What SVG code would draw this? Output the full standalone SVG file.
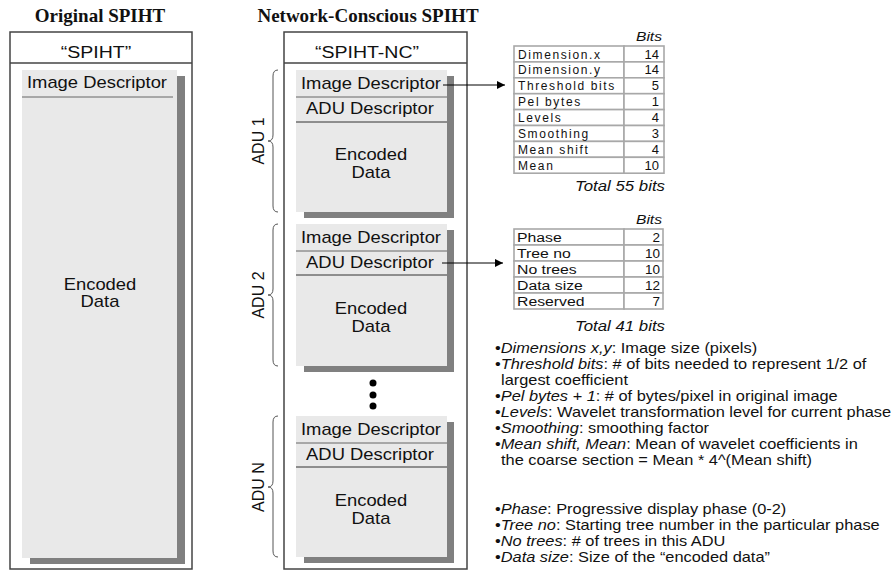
<svg xmlns="http://www.w3.org/2000/svg" width="894" height="571" viewBox="0 0 894 571">
<defs>
<style>
.title{font-family:"Liberation Serif",serif;font-weight:bold;font-size:19px;fill:#111}
.t{font-family:"Liberation Sans",Arial,sans-serif;fill:#111}
.box{font-size:16px}
.hdr{font-size:17px}
.sx{transform-box:fill-box;transform-origin:center;transform:scaleX(1.15)}
.sxl{transform-box:fill-box;transform-origin:left center;transform:scaleX(1.17)}
.sxr{transform-box:fill-box;transform-origin:right center;transform:scaleX(1.2)}
.outer{fill:#fff;stroke:#444;stroke-width:1.5}
.grey{fill:#e9e9e9}
.shadow{fill:#808080}
.div{stroke:#666;stroke-width:1}
.divd{stroke:#333;stroke-width:1}
.brace{fill:none;stroke:#555;stroke-width:1}
.cell{fill:#fff;stroke:#a8a8a8;stroke-width:1.6}
.tb{font-size:12px;letter-spacing:1.6px}
.tb2{font-size:13.5px}
.it{font-style:italic}
.note{font-size:14px}
.conn{stroke:#000;stroke-width:1;fill:none}
</style>
<marker id="ah" viewBox="0 0 10 10" refX="10" refY="5" markerWidth="10" markerHeight="8" markerUnits="userSpaceOnUse" orient="auto">
<path d="M0,0 L10,5 L0,10 z" fill="#000"/>
</marker>
</defs>
<rect width="894" height="571" fill="#fff"/>

<text class="title" x="100" y="22" text-anchor="middle">Original SPIHT</text>
<text class="title" x="368" y="22" text-anchor="middle">Network-Conscious SPIHT</text>

<g id="spiht">
<rect class="outer" x="10" y="32" width="182" height="537"/>
<line x1="10" y1="63" x2="192" y2="63" stroke="#444" stroke-width="1.5"/>
<text class="t hdr sx" x="96" y="58" text-anchor="middle">“SPIHT”</text>
<rect class="shadow" x="30" y="76" width="155" height="488"/>
<rect class="grey" x="22" y="70" width="155" height="488"/>
<line class="div" x1="22" y1="97" x2="173" y2="97"/>
<text class="t box sx" x="97" y="88" text-anchor="middle">Image Descriptor</text>
<text class="t box sx" x="100" y="290" text-anchor="middle">Encoded</text>
<text class="t box sx" x="100" y="307" text-anchor="middle">Data</text>
</g>

<g id="spiht-nc">
<rect class="outer" x="284" y="32" width="183" height="537"/>
<line x1="284" y1="63" x2="467" y2="63" stroke="#444" stroke-width="1.5"/>
<text class="t hdr sx" x="367" y="58" text-anchor="middle">“SPIHT-NC”</text>
</g>

<g id="adu1">
<rect class="shadow" x="304" y="76" width="150" height="142"/>
<rect class="grey" x="296" y="70" width="151" height="142"/>
<line class="div" x1="296" y1="97" x2="447" y2="97"/>
<line class="divd" x1="296" y1="122" x2="447" y2="122"/>
<text class="t box sx" x="371" y="89" text-anchor="middle">Image Descriptor</text>
<text class="t box sx" x="370" y="114" text-anchor="middle">ADU Descriptor</text>
<text class="t box sx" x="371" y="160" text-anchor="middle">Encoded</text>
<text class="t box sx" x="371" y="178" text-anchor="middle">Data</text>
<path class="brace" d="M278,70 Q273,70 273,76 L273,135 Q273,141 268,141 Q273,141 273,147 L273,206 Q273,212 278,212"/>
<text class="t" font-size="16" transform="translate(264,141) rotate(-90)" text-anchor="middle">ADU 1</text>
</g>

<g id="adu2">
<rect class="shadow" x="304" y="230" width="150" height="142"/>
<rect class="grey" x="296" y="224" width="151" height="142"/>
<line class="div" x1="296" y1="251" x2="447" y2="251"/>
<line class="divd" x1="296" y1="275" x2="447" y2="275"/>
<text class="t box sx" x="371" y="243" text-anchor="middle">Image Descriptor</text>
<text class="t box sx" x="370" y="268" text-anchor="middle">ADU Descriptor</text>
<text class="t box sx" x="371" y="314" text-anchor="middle">Encoded</text>
<text class="t box sx" x="371" y="332" text-anchor="middle">Data</text>
<path class="brace" d="M278,224 Q273,224 273,230 L273,289 Q273,295 268,295 Q273,295 273,301 L273,360 Q273,366 278,366"/>
<text class="t" font-size="16" transform="translate(264,295) rotate(-90)" text-anchor="middle">ADU 2</text>
</g>

<g id="dots">
<circle cx="373" cy="383" r="3.5" fill="#000"/>
<circle cx="373" cy="395" r="3.5" fill="#000"/>
<circle cx="373" cy="406" r="3.5" fill="#000"/>
</g>

<g id="adun">
<rect class="shadow" x="304" y="422" width="150" height="141"/>
<rect class="grey" x="296" y="416" width="151" height="141"/>
<line class="div" x1="296" y1="443" x2="447" y2="443"/>
<line class="divd" x1="296" y1="467" x2="447" y2="467"/>
<text class="t box sx" x="371" y="435" text-anchor="middle">Image Descriptor</text>
<text class="t box sx" x="370" y="460" text-anchor="middle">ADU Descriptor</text>
<text class="t box sx" x="371" y="506" text-anchor="middle">Encoded</text>
<text class="t box sx" x="371" y="524" text-anchor="middle">Data</text>
<path class="brace" d="M278,416 Q273,416 273,422 L273,481 Q273,487 268,487 Q273,487 273,493 L273,551 Q273,557 278,557"/>
<text class="t" font-size="16" transform="translate(264,487) rotate(-90)" text-anchor="middle">ADU N</text>
</g>

<g id="connectors">
<line class="conn" x1="443" y1="85" x2="505" y2="85" marker-end="url(#ah)"/>
<line class="conn" x1="442" y1="263" x2="503" y2="263" marker-end="url(#ah)"/>
</g>

<g id="table1">
<text class="t it sxr" font-size="13" x="662" y="41" text-anchor="end">Bits</text>
<rect class="cell" x="514" y="46" width="110" height="15.9"/><rect class="cell" x="624" y="46" width="40" height="15.9"/>
<rect class="cell" x="514" y="61.9" width="110" height="15.9"/><rect class="cell" x="624" y="61.9" width="40" height="15.9"/>
<rect class="cell" x="514" y="77.8" width="110" height="15.9"/><rect class="cell" x="624" y="77.8" width="40" height="15.9"/>
<rect class="cell" x="514" y="93.7" width="110" height="15.9"/><rect class="cell" x="624" y="93.7" width="40" height="15.9"/>
<rect class="cell" x="514" y="109.6" width="110" height="15.9"/><rect class="cell" x="624" y="109.6" width="40" height="15.9"/>
<rect class="cell" x="514" y="125.5" width="110" height="15.9"/><rect class="cell" x="624" y="125.5" width="40" height="15.9"/>
<rect class="cell" x="514" y="141.4" width="110" height="15.9"/><rect class="cell" x="624" y="141.4" width="40" height="15.9"/>
<rect class="cell" x="514" y="157.3" width="110" height="15.9"/><rect class="cell" x="624" y="157.3" width="40" height="15.9"/>
<g class="t tb">
<text x="518" y="58.5">Dimension.x</text>
<text x="518" y="74.4">Dimension.y</text>
<text x="518" y="90.3">Threshold bits</text>
<text x="518" y="106.2">Pel bytes</text>
<text x="518" y="122.1">Levels</text>
<text x="518" y="138">Smoothing</text>
<text x="518" y="153.9">Mean  shift</text>
<text x="518" y="169.8">Mean</text>
</g>
<g class="t" font-size="13" text-anchor="end">
<text x="659" y="58.5">14</text>
<text x="659" y="74.4">14</text>
<text x="659" y="90.3">5</text>
<text x="659" y="106.2">1</text>
<text x="659" y="122.1">4</text>
<text x="659" y="138">3</text>
<text x="659" y="153.9">4</text>
<text x="659" y="169.8">10</text>
</g>
<text class="t it sxr" font-size="14" x="665" y="191" text-anchor="end">Total 55 bits</text>
</g>

<g id="table2">
<text class="t it sxr" font-size="13" x="662" y="224" text-anchor="end">Bits</text>
<rect class="cell" x="514" y="229" width="110" height="16"/><rect class="cell" x="624" y="229" width="39" height="16"/>
<rect class="cell" x="514" y="245" width="110" height="16"/><rect class="cell" x="624" y="245" width="39" height="16"/>
<rect class="cell" x="514" y="261" width="110" height="16"/><rect class="cell" x="624" y="261" width="39" height="16"/>
<rect class="cell" x="514" y="277" width="110" height="16"/><rect class="cell" x="624" y="277" width="39" height="16"/>
<rect class="cell" x="514" y="293" width="110" height="16"/><rect class="cell" x="624" y="293" width="39" height="16"/>
<g class="t tb2">
<text class="sxl" x="517" y="242">Phase</text>
<text class="sxl" x="517" y="258">Tree no</text>
<text class="sxl" x="517" y="274">No trees</text>
<text class="sxl" x="517" y="290">Data size</text>
<text class="sxl" x="517" y="306">Reserved</text>
</g>
<g class="t tb2" text-anchor="end">
<text x="660" y="242">2</text>
<text x="660" y="258">10</text>
<text x="660" y="274">10</text>
<text x="660" y="290">12</text>
<text x="660" y="306">7</text>
</g>
<text class="t it sxr" font-size="14" x="665" y="331" text-anchor="end">Total 41 bits</text>
</g>

<g id="notes" class="t note">
<text class="sxl" x="495" y="353">•<tspan class="it">Dimensions x,y</tspan>:  Image size (pixels)</text>
<text class="sxl" x="495" y="369">•<tspan class="it">Threshold bits</tspan>: # of bits needed to represent 1/2 of</text>
<text class="sxl" x="501" y="385">largest coefficient</text>
<text class="sxl" x="495" y="401">•<tspan class="it">Pel bytes + 1</tspan>: # of bytes/pixel in original image</text>
<text class="sxl" x="495" y="417">•<tspan class="it">Levels</tspan>: Wavelet transformation level for current phase</text>
<text class="sxl" x="495" y="433">•<tspan class="it">Smoothing</tspan>: smoothing factor</text>
<text class="sxl" x="495" y="449">•<tspan class="it">Mean shift, Mean</tspan>: Mean of wavelet coefficients in</text>
<text class="sxl" x="501" y="465">the coarse section = Mean * 4^(Mean shift)</text>
<text class="sxl" x="495" y="514">•<tspan class="it">Phase</tspan>:  Progressive display phase (0-2)</text>
<text class="sxl" x="495" y="530">•<tspan class="it">Tree no</tspan>: Starting tree number in the particular phase</text>
<text class="sxl" x="495" y="546">•<tspan class="it">No trees</tspan>: # of trees in this ADU</text>
<text class="sxl" x="495" y="562">•<tspan class="it">Data size</tspan>: Size of the “encoded data”</text>
</g>
</svg>
